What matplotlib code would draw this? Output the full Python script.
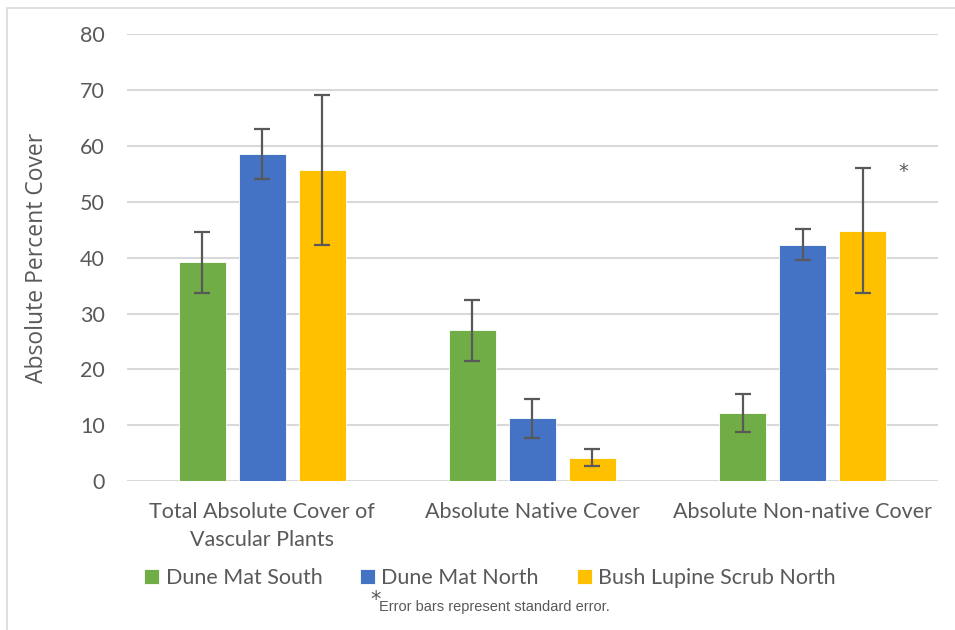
import numpy as np
import matplotlib
matplotlib.use("Agg")
import matplotlib.pyplot as plt
from matplotlib.patches import Rectangle

# cover categories and site series
categories = ["Total Absolute Cover of\nVascular Plants", "Absolute Native Cover", "Absolute Non-native Cover"]
sites = ["Dune Mat South", "Dune Mat North", "Bush Lupine Scrub North"]
colors = ["#70AD47", "#4472C4", "#FFC000"]

dune_mat_south = [39.2, 27.0, 12.2]
dune_mat_north = [58.5, 11.3, 42.3]
bush_lupine = [55.7, 4.2, 44.8]

se_dune_mat_south = [5.45, 5.5, 3.35]
se_dune_mat_north = [4.5, 3.5, 2.8]
se_bush_lupine = [13.4, 1.5, 11.15]

values = [dune_mat_south, dune_mat_north, bush_lupine]
errors = [se_dune_mat_south, se_dune_mat_north, se_bush_lupine]

text_color = "#595959"
grid_color = "#D9D9D9"
font = ["Lato", "DejaVu Sans"]

fig = plt.figure(figsize=(9.55, 6.3), dpi=100)
ax = fig.add_axes([0.133, 0.236, 0.849, 0.71])

x = np.arange(len(categories))
width = 0.174
step = 0.222
for i, (vals, errs) in enumerate(zip(values, errors)):
    ax.bar(x + (i - 1) * step, vals, width, color=colors[i], label=sites[i],
           edgecolor="white", linewidth=0.6, zorder=3)
    ax.errorbar(x + (i - 1) * step, vals, yerr=errs, fmt="none", ecolor=text_color,
                elinewidth=1.6, capsize=6, capthick=1.6, zorder=4)

ax.set_xlim(-0.5, 2.5)
ax.set_ylim(0, 80)
ax.set_yticks(range(0, 81, 10))
ax.yaxis.grid(True, color=grid_color, linewidth=1.5, zorder=0)
for s in ax.spines.values():
    s.set_visible(False)
ax.tick_params(axis="both", length=0, colors=text_color, labelsize=15.5)
ax.tick_params(axis="y", pad=16)
ax.tick_params(axis="x", pad=15)
ax.set_xticks(x)
ax.set_xticklabels(categories, fontfamily=font, linespacing=1.5)
for lbl in ax.get_yticklabels():
    lbl.set_fontfamily(font)

ax.set_ylabel("Absolute Percent Cover", fontsize=16.5, color=text_color,
              fontfamily=["Open Sans", "DejaVu Sans"], labelpad=22)

# significance marker
ax.text(2.374, 55.5, "*", ha="center", va="center", fontsize=14, color=text_color)

leg = fig.legend(loc="center", bbox_to_anchor=(0.513, 0.082), ncol=3, frameon=False,
                 prop={"family": font, "size": 15.5}, handlelength=0.7, handleheight=0.7,
                 handletextpad=0.3, columnspacing=1.75)
for t in leg.get_texts():
    t.set_color(text_color)

fig.text(0.388, 0.038, "*", fontsize=15, color=text_color, ha="left", va="baseline")
fig.text(0.397, 0.030, "Error bars represent standard error.", fontsize=10.5,
         color=text_color, ha="left", va="baseline",
         fontfamily=["Liberation Sans Narrow", "Liberation Sans", "DejaVu Sans"])

# light frame around the chart area
fig.patches.append(Rectangle((7 / 955, -0.1), 1.2, 1 - 8 / 630 + 0.1, transform=fig.transFigure,
                             fill=False, edgecolor="#D9D9D9", linewidth=1.2))

fig.savefig("out.png", dpi=100)
